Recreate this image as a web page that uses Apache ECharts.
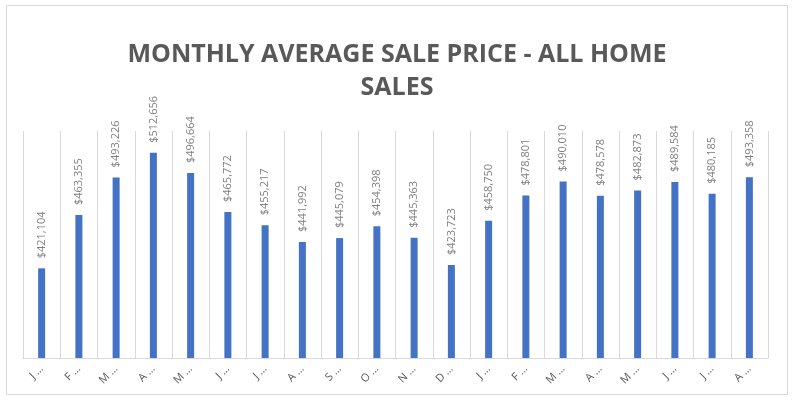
<!DOCTYPE html>
<html>
<head>
<meta charset="utf-8">
<script src="https://cdn.jsdelivr.net/npm/echarts@6/dist/echarts.min.js"></script>
<style>
html,body{margin:0;padding:0;background:#fff;}
#c{width:794px;height:401px;}
</style>
</head>
<body>
<div id="c"></div>
<script>
var categories = ['January','February','March','April','May','June','July','August','September','October','November','December','January','February','March','April','May','June','July','August'];
var prices = [421104,463355,493226,512656,496664,465772,455217,441992,445079,454398,445363,423723,458750,478801,490010,478578,482873,489584,480185,493358];
var titleText = 'MONTHLY AVERAGE SALE PRICE - ALL HOME\nSALES';

var chart = echarts.init(document.getElementById('c'));
chart.setOption({
  animation:false,
  backgroundColor:'#fff',
  title:{
    text:titleText,
    left:'center',
    top:33,
    textStyle:{fontFamily:'Open Sans',fontWeight:'bold',fontSize:25,color:'#595959',lineHeight:33,align:'center'}
  },
  graphic:[{type:'rect',shape:{x:6.5,y:5.5,width:781,height:389},style:{fill:'none',stroke:'#d9d9d9',lineWidth:1},silent:true}],
  grid:{left:23,right:26,top:131,bottom:43},
  xAxis:{
    type:'category',
    data:categories,
    boundaryGap:true,
    axisLine:{show:true,lineStyle:{color:'#d9d9d9'}},
    axisTick:{show:false},
    splitLine:{show:true,lineStyle:{color:'#d9d9d9',width:1}},
    axisLabel:{
      rotate:45,interval:0,margin:9,
      color:'#595959',fontFamily:'Open Sans',fontSize:11,
      formatter:function(v){return v.charAt(0)+' …';}
    }
  },
  yAxis:{
    type:'value',min:350000,max:530000,show:false,
    splitLine:{show:false}
  },
  series:[{
    type:'bar',
    data:prices,
    barWidth:7,
    itemStyle:{color:'#4472C4'},
    label:{
      show:true,position:'top',rotate:90,align:'left',verticalAlign:'middle',distance:10,
      color:'#7f7f7f',fontFamily:'Open Sans',fontSize:11,
      formatter:function(p){return '$'+p.value.toLocaleString('en-US');}
    }
  }]
});
</script>
</body>
</html>
